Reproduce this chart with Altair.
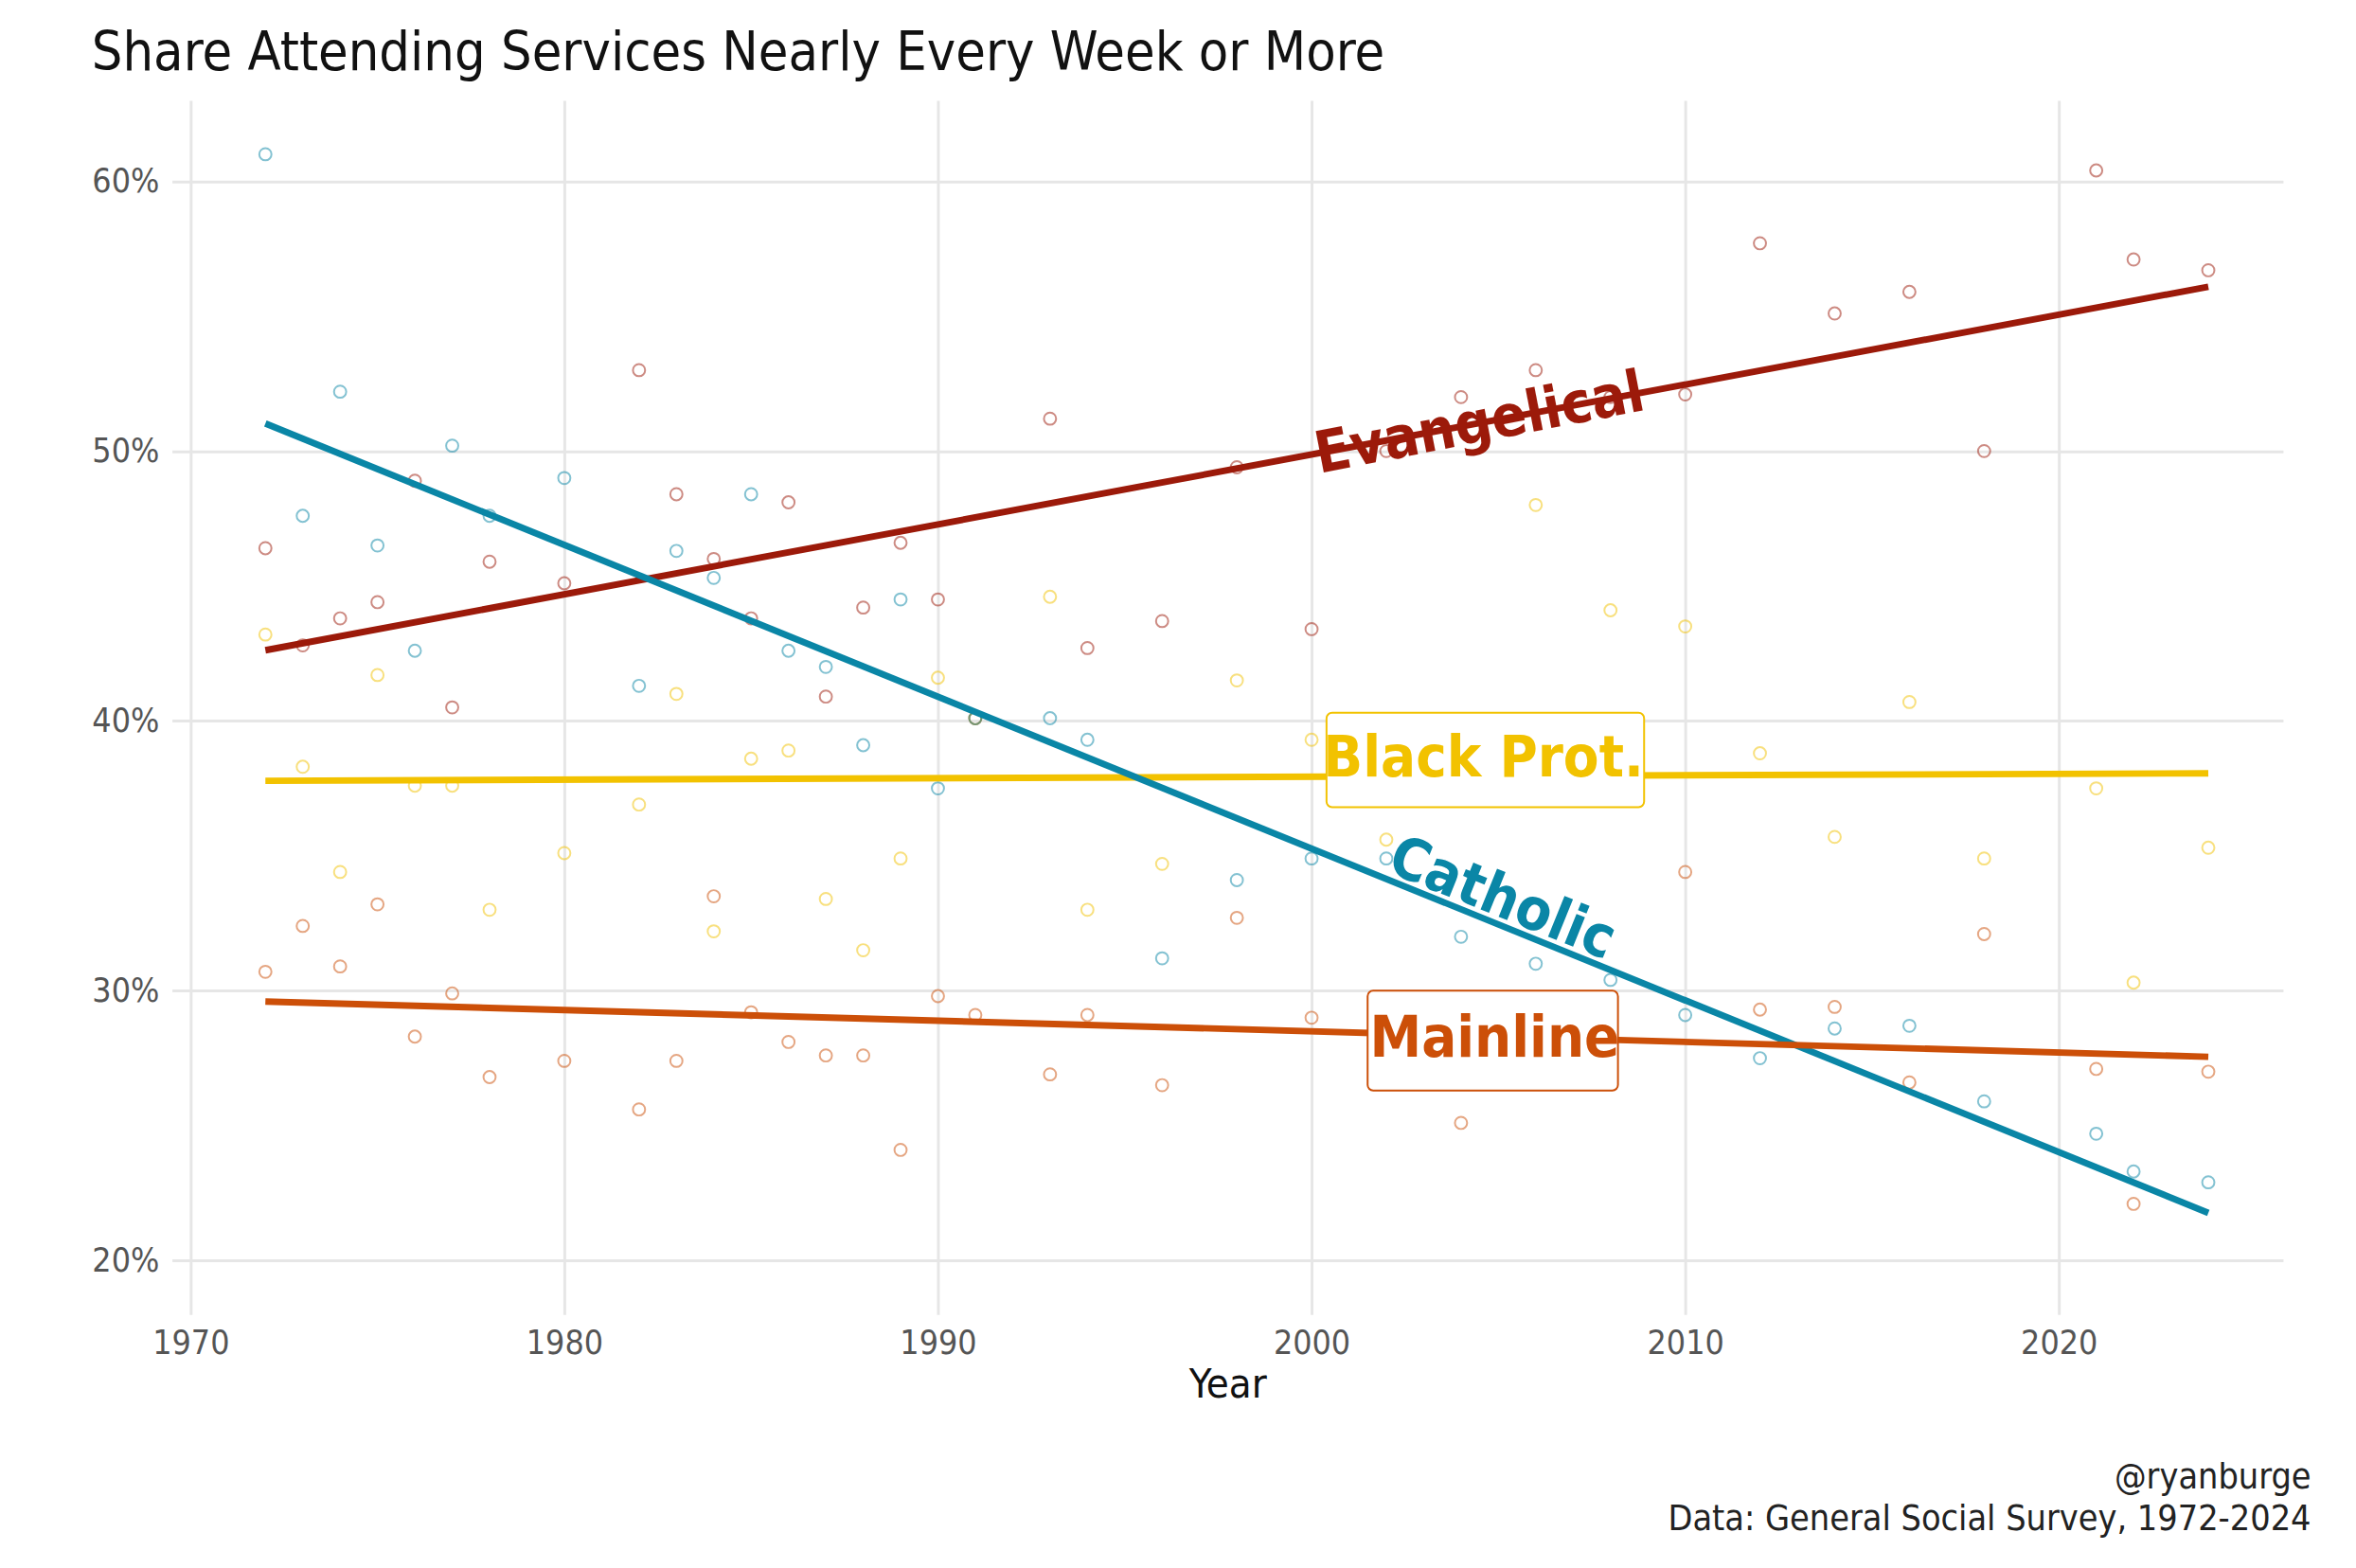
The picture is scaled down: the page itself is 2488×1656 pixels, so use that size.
import altair as alt
import pandas as pd

years = [1972, 1973, 1974, 1975, 1976, 1977, 1978, 1980, 1982, 1983, 1984, 1985, 1986,
         1987, 1988, 1989, 1990, 1991, 1993, 1994, 1996, 1998, 2000, 2002, 2004, 2006,
         2008, 2010, 2012, 2014, 2016, 2018, 2021, 2022, 2024]

evangelical = [46.4, 42.8, 43.8, 44.4, 48.9, 40.5, 45.9, 45.1, 53.0, 48.4, 46.0, 43.8, 48.1,
               40.9, 44.2, 46.6, 44.5, 40.1, 51.2, 42.7, 43.7, 49.4, 43.4, 50.0, 52.0, 53.0,
               52.0, 52.1, 57.7, 55.1, 55.9, 50.0, 60.4, 57.1, 56.7]
catholic = [61.0, 47.6, 52.2, 46.5, 42.6, 50.2, 47.6, 49.0, 41.3, 46.3, 45.3, 48.4, 42.6,
            42.0, 39.1, 44.5, 37.5, 40.1, 40.1, 39.3, 31.2, 34.1, 34.9, 34.9, 32.0, 31.0,
            30.4, 29.1, 27.5, 28.6, 28.7, 25.9, 24.7, 23.3, 22.9]
black_prot = [43.2, 38.3, 34.4, 41.7, 37.6, 37.6, 33.0, 35.1, 36.9, 41.0, 32.2, 38.6, 38.9,
              33.4, 31.5, 34.9, 41.6, 40.1, 44.6, 33.0, 34.7, 41.5, 39.3, 35.6, 39.0, 48.0,
              44.1, 43.5, 38.8, 35.7, 40.7, 34.9, 37.5, 30.3, 35.3]
mainline = [30.7, 32.4, 30.9, 33.2, 28.3, 29.9, 26.8, 27.4, 25.6, 27.4, 33.5, 29.2, 28.1,
            27.6, 27.6, 24.1, 29.8, 29.1, 26.9, 29.1, 26.5, 32.7, 29.0, 29.0, 25.1, 28.0,
            29.0, 34.4, 29.3, 29.4, 26.6, 32.1, 27.1, 22.1, 27.0]

groups = ["Evangelical", "Black Prot.", "Catholic", "Mainline"]
colors = ["#9C1A0A", "#F2C200", "#0A86A6", "#CC4F08"]

rows = []
for name, vals in zip(groups, [evangelical, black_prot, catholic, mainline]):
    for yr, v in zip(years, vals):
        rows.append({"year": yr, "share": v / 100, "group": name})
df = pd.DataFrame(rows)

# direct labels on the fitted lines
lab_df = pd.DataFrame({
    "group": groups,
    "year": [2004.5, 2004.6, 2005.1, 2004.9],
    "share": [0.510, 0.386, 0.334, 0.282],
    "angle": [349, 0, 22, 0],
})
# boxes for the flat labels
box_df = pd.DataFrame({
    "group": ["Black Prot.", "Mainline"],
    "x0": [2000.4, 2001.5], "x1": [2008.9, 2008.2],
    "y0": [0.368, 0.263], "y1": [0.403, 0.300],
})

FONT = "DejaVu Sans Condensed"
W, H = 2260, 1300
color = alt.Color("group:N", scale=alt.Scale(domain=groups, range=colors), legend=None)
x = alt.X("year:Q", title="Year", scale=alt.Scale(domain=[1969.5, 2026], nice=False),
          axis=alt.Axis(values=[1970, 1980, 1990, 2000, 2010, 2020], format="d"))
y = alt.Y("share:Q", title=None, scale=alt.Scale(domain=[0.18, 0.63], nice=False),
          axis=alt.Axis(values=[0.2, 0.3, 0.4, 0.5, 0.6], format=".0%"))

base = alt.Chart(df)
points = base.mark_point(filled=False, size=170, strokeWidth=2, opacity=0.5).encode(x=x, y=y, color=color)
lines = base.transform_regression("year", "share", groupby=["group"]).mark_line(strokeWidth=7).encode(
    x=x, y=y, color=color)
boxes = alt.Chart(box_df).mark_rect(fill="white", strokeWidth=2, cornerRadius=6).encode(
    x="x0:Q", x2="x1", y="y0:Q", y2="y1", stroke=alt.Stroke("group:N", scale=alt.Scale(domain=groups, range=colors), legend=None))
labels = alt.Chart(lab_df).mark_text(font=FONT, fontSize=62, fontWeight="bold").encode(
    x="year:Q", y="share:Q", angle=alt.Angle("angle:Q", scale=None), color=color, text="group:N")

cap = pd.DataFrame({"t": ["@ryanburge", "Data: General Social Survey, 1972-2024"], "dy": [H + 175, H + 220]})
caption = alt.Chart(cap).mark_text(font=FONT, fontSize=38, align="right", color="#222").encode(
    x=alt.value(W + 30), y=alt.Y("dy:Q", scale=None), text="t:N")

chart = alt.layer(points, lines, boxes, labels, caption).properties(
    width=W, height=H,
    padding={"left": 90, "top": 10, "right": 40, "bottom": 10},
    title=alt.TitleParams("Share Attending Services Nearly Every Week or More", anchor="start",
                          font=FONT, fontSize=58, fontWeight="normal", color="#111", offset=20),
).configure_view(stroke=None).configure_axis(
    grid=True, gridColor="#E6E6E6", gridWidth=3, domain=False, ticks=False,
    labelFont=FONT, labelFontSize=36, labelColor="#555", labelPadding=14,
    titleFont=FONT, titleFontSize=44, titleFontWeight="normal", titleColor="#111",
)
chart.save("out.html", embed_options={"renderer": "svg", "actions": False})
